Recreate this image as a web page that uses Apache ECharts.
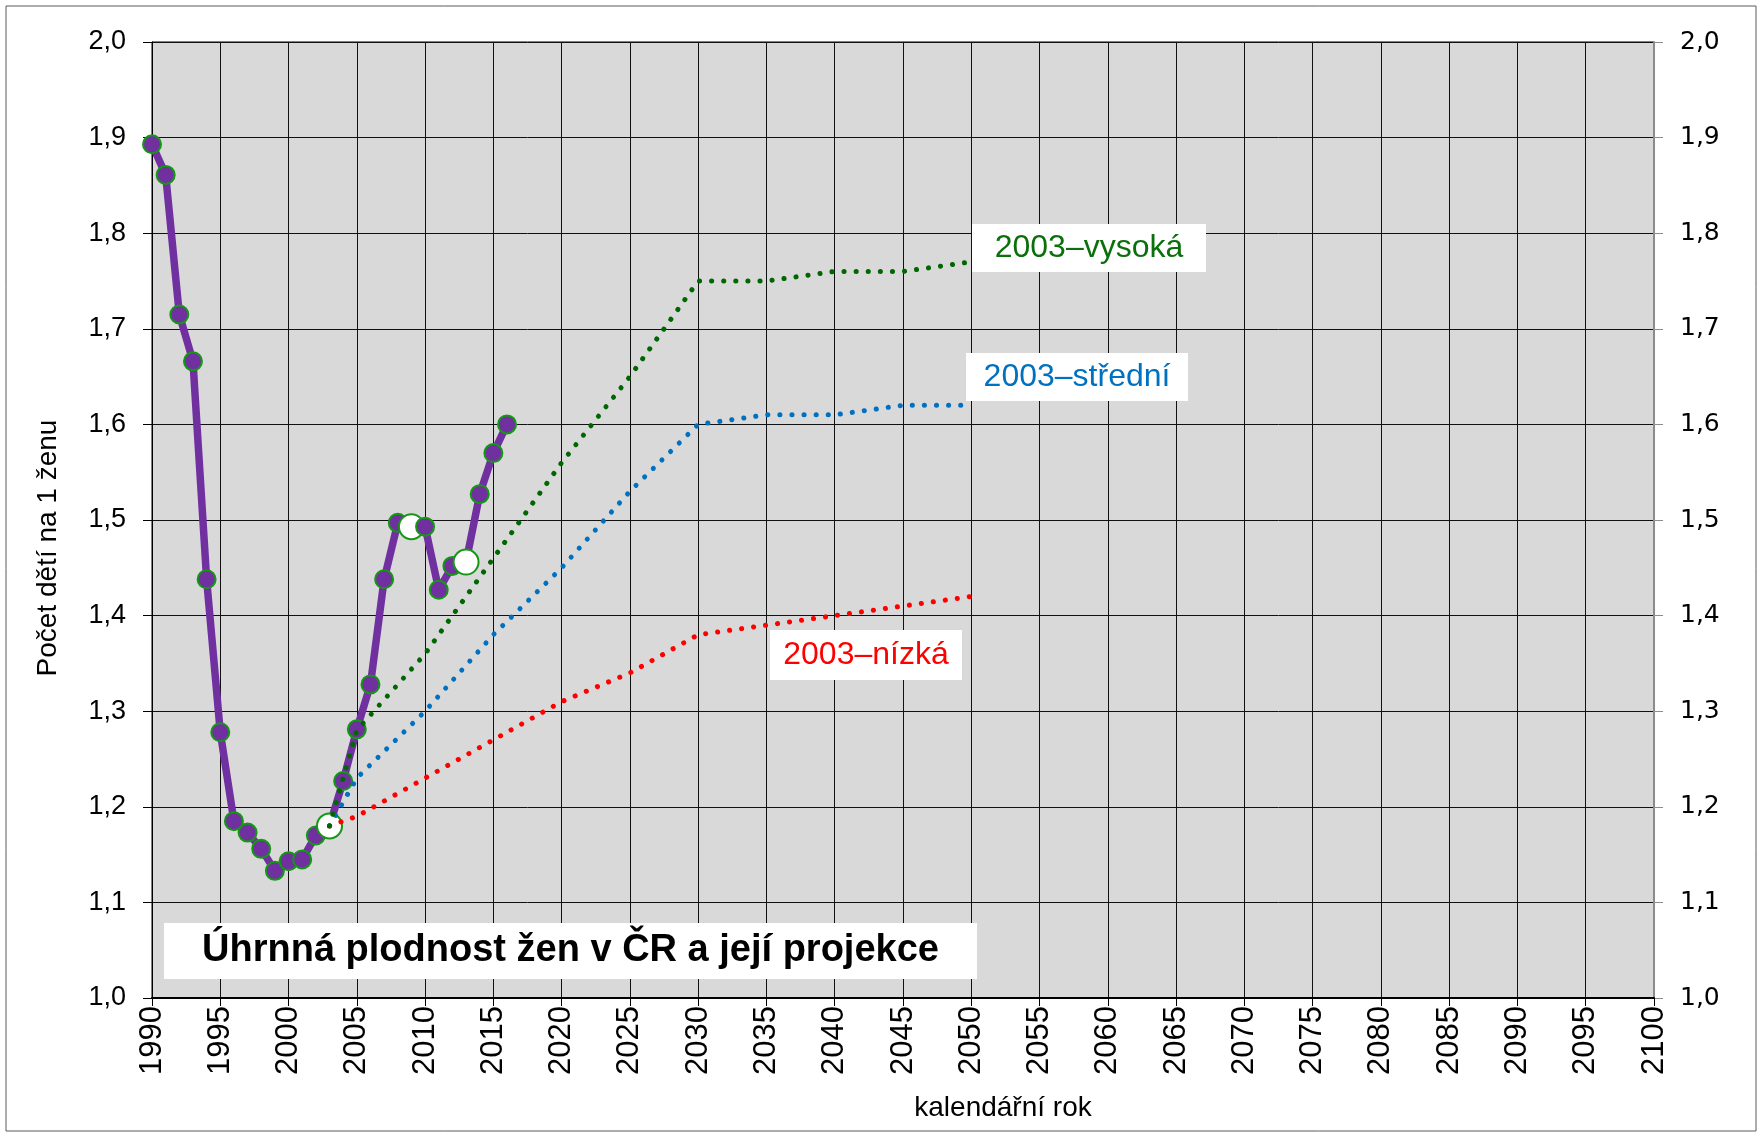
<!DOCTYPE html>
<html><head><meta charset="utf-8">
<script src="https://cdn.jsdelivr.net/npm/echarts@6/dist/echarts.min.js"></script>
<style>html,body{margin:0;padding:0;background:#fff}#c{width:1764px;height:1133px}</style>
</head><body><div id="c"></div>
<script>
// ---- data ----
const actualYears  = [1990,1991,1992,1993,1994,1995,1996,1997,1998,1999,2000,2001,2002,2003,2004,2005,2006,2007,2008,2009,2010,2011,2012,2013,2014,2015,2016];
const actualValues = [1.893,1.861,1.715,1.666,1.438,1.278,1.185,1.173,1.156,1.133,1.143,1.145,1.170,1.180,1.227,1.281,1.328,1.438,1.497,1.493,1.493,1.427,1.452,1.456,1.527,1.570,1.600];
const highlightYears = [2003, 2009, 2013];
const projYears  = [2003,2005,2010,2015,2020,2025,2030,2035,2040,2045,2050];
const highValues = [1.18,1.28,1.36,1.46,1.56,1.65,1.75,1.75,1.76,1.76,1.77];
const midValues  = [1.18,1.23,1.30,1.38,1.45,1.53,1.60,1.61,1.61,1.62,1.62];
const lowValues  = [1.18,1.19,1.23,1.27,1.31,1.34,1.38,1.39,1.40,1.41,1.42];
const labelHigh = '2003–vysoká';
const labelMid  = '2003–střední';
const labelLow  = '2003–nízká';
const chartTitle = 'Úhrnná plodnost žen v ČR a její projekce';
const xName = 'kalendářní rok';
const yName = 'Počet dětí na 1 ženu';

const FONT = '"Liberation Sans", Arial, sans-serif';
const chart = echarts.init(document.getElementById('c'));

const purpleData = actualYears.map((yr, i) => {
  if (highlightYears.includes(yr)) {
    return { value: [yr, actualValues[i]], symbolSize: 25, itemStyle: { color: '#ffffff' } };
  }
  return [yr, actualValues[i]];
});
const pair = (vals) => projYears.map((yr, i) => [yr, vals[i]]);
const dotted = (color) => ({ color: color, width: 5, type: [0.1, 12], cap: 'round' });
const yFmt = v => v.toFixed(1).replace('.', ',');

function box(x, y, w, h, text, color, size, bold) {
  return [
    { type: 'rect', z: 100, shape: { x: x, y: y, width: w, height: h }, style: { fill: '#ffffff' } },
    { type: 'text', z: 101, x: x + w / 2, y: y + h / 2,
      style: { text: text, fill: color, font: (bold ? 'bold ' : '') + size + 'px ' + FONT, align: 'center', verticalAlign: 'middle' } }
  ];
}

chart.setOption({
  animation: false,
  backgroundColor: '#ffffff',
  grid: { left: 152, right: 110, top: 42, bottom: 135, show: true, backgroundColor: '#D9D9D9', borderColor: '#000', borderWidth: 1 },
  xAxis: {
    type: 'value', min: 1990, max: 2100, interval: 5,
    axisLine: { show: true, lineStyle: { color: '#000', width: 2 } },
    axisTick: { show: true, length: 8, lineStyle: { color: '#000' } },
    splitLine: { show: true, lineStyle: { color: '#111', width: 1 } },
    axisLabel: { rotate: 90, margin: 8, color: '#000', fontSize: 31, fontFamily: FONT, formatter: v => String(v) }
  },
  yAxis: [
    { type: 'value', min: 1, max: 2, interval: 0.1, position: 'left',
      axisLine: { show: true, lineStyle: { color: '#000', width: 1 } },
      axisTick: { show: true, length: 9, lineStyle: { color: '#000' } },
      splitLine: { show: true, lineStyle: { color: '#111', width: 1 } },
      axisLabel: { margin: 26, color: '#000', fontSize: 27, fontFamily: FONT, formatter: yFmt } },
    { type: 'value', min: 1, max: 2, interval: 0.1, position: 'right',
      axisLine: { show: true, lineStyle: { color: '#8c8c8c', width: 2 } },
      axisTick: { show: true, length: 9, lineStyle: { color: '#8c8c8c' } },
      splitLine: { show: false },
      axisLabel: { margin: 26, color: '#000', fontSize: 25, fontFamily: '"DejaVu Sans", sans-serif', formatter: yFmt } }
  ],
  series: [
    { type: 'line', name: 'skutečnost', data: purpleData, z: 3,
      symbol: 'circle', symbolSize: 18, showAllSymbol: true,
      lineStyle: { color: '#7030A0', width: 7.5 },
      itemStyle: { color: '#7030A0', borderColor: '#149814', borderWidth: 2 } },
    { type: 'line', name: labelLow, data: pair(lowValues), z: 4, symbol: 'none', lineStyle: dotted('#FF0000') },
    { type: 'line', name: labelMid, data: pair(midValues), z: 5, symbol: 'none', lineStyle: dotted('#0070C0') },
    { type: 'line', name: labelHigh, data: pair(highValues), z: 6, symbol: 'none', lineStyle: dotted('#006600') }
  ],
  graphic: [
    { type: 'rect', z: 90, shape: { x: 6, y: 6, width: 1750, height: 1125 }, style: { fill: null, stroke: '#5a5a5a', lineWidth: 1 } },
    ...box(972, 224, 234, 48, labelHigh, '#0B700B', 32, false),
    ...box(966, 353, 222, 48, labelMid, '#0070C0', 32, false),
    ...box(770, 630, 192, 50, labelLow, '#FF0000', 32, false),
    ...box(164, 923, 813, 56, chartTitle, '#000000', 38, true),
    { type: 'text', z: 101, x: 1003, y: 1108,
      style: { text: xName, fill: '#000', font: '28px ' + FONT, align: 'center', verticalAlign: 'middle' } },
    { type: 'text', z: 101, x: 48, y: 548, rotation: Math.PI / 2,
      style: { text: yName, fill: '#000', font: '28px ' + FONT, align: 'center', verticalAlign: 'middle' } }
  ]
});
</script></body></html>
